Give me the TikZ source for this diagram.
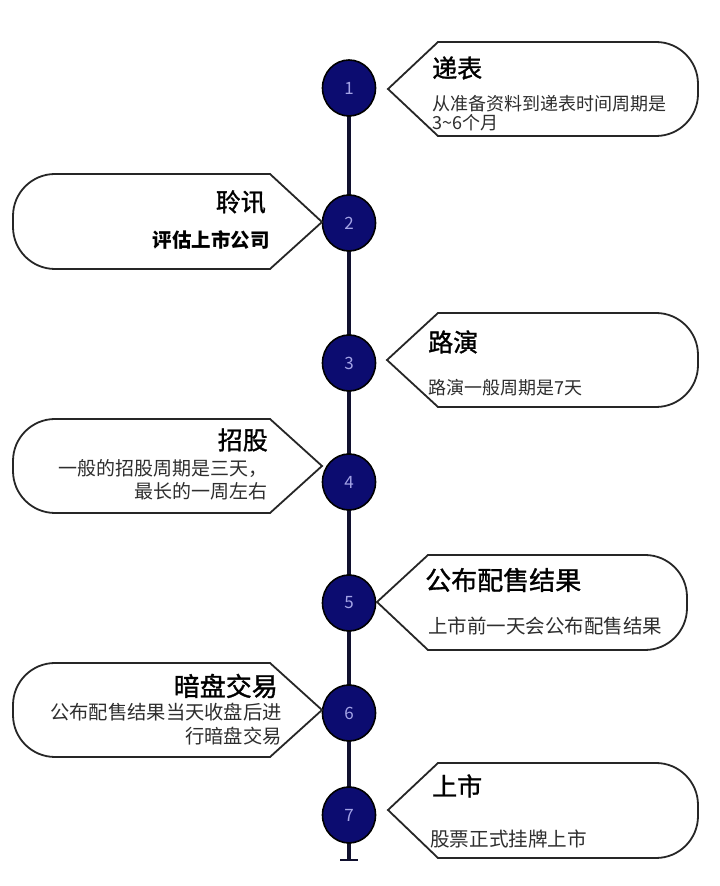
\documentclass[tikz,border=0pt]{standalone}
\usepackage{fontspec}
\setmainfont{Noto Sans CJK SC}
\newfontfamily\titlefont[FakeBold=1.2]{Noto Sans CJK SC}
\usepackage{tikz}
\usetikzlibrary{shapes.geometric}

\definecolor{stepnavy}{HTML}{0C0C70}
\definecolor{spinedark}{HTML}{10102E}
\definecolor{numlilac}{HTML}{A4A4E6}
\definecolor{bodygrey}{HTML}{2E2E2E}

\begin{document}
\begin{tikzpicture}[x=1pt, y=1pt,
  spine/.style={line width=4pt, draw=spinedark},
  stepdot/.style={ellipse, draw=black, line width=1.6pt, fill=stepnavy,
    minimum width=53pt, minimum height=56pt, inner sep=0pt,
    text=numlilac, font=\fontsize{17}{17}\selectfont},
  bubble/.style={draw=black!85, line width=1.8pt, fill=white, line join=miter},
  steptitle/.style={font=\titlefont\fontsize{25}{28}\selectfont, text=black, inner sep=0pt},
  stepbody/.style={font=\fontsize{19}{23}\selectfont, text=bodygrey, inner sep=0pt}]
  \useasboundingbox (0,0) rectangle (720,886);

  % Spine
  \coordinate (spine top) at (349,798);
  \coordinate (spine end) at (349,26);
  \draw[spine] (spine top) -- (spine end);
  \draw[spine, line width=2.5pt] ([xshift=-9pt]spine end) -- ([xshift=9pt]spine end);

  % Step dots
  \node[stepdot] (s1) at (349,798) {1};
  \node[stepdot] (s2) at (349,663) {2};
  \node[stepdot] (s3) at (349,523) {3};
  \node[stepdot] (s4) at (349,404) {4};
  \node[stepdot] (s5) at (349,283) {5};
  \node[stepdot] (s6) at (349,173) {6};
  \node[stepdot] (s7) at (349,71) {7};

  % Step 1
  \draw[bubble] (388,797) -- (438,844) -- (656,844) arc[start angle=90, end angle=0, radius=42pt]
    -- (698,792) arc[start angle=0, end angle=-90, radius=42pt] -- (438,750) -- cycle;
  \node[steptitle, anchor=west] (t1) at (432,818) {递表};
  \node[stepbody, anchor=west, align=left, font=\fontsize{18}{19}\selectfont] (b1) at (432,773)
    {从准备资料到递表时间周期是\\3\textasciitilde6个月};

  % Step 2
  \draw[bubble] (322,664) -- (270,712) -- (55,712) arc[start angle=90, end angle=180, radius=42pt]
    -- (13,659) arc[start angle=180, end angle=270, radius=42pt] -- (270,617) -- cycle;
  \node[steptitle, anchor=east] (t2) at (266,684) {聆讯};
  \node[stepbody, anchor=east, text=black, font=\fontsize{19.5}{23}\selectfont\bfseries] (b2) at (270,646) {评估上市公司};

  % Step 3
  \draw[bubble] (387,526) -- (438,573) -- (656,573) arc[start angle=90, end angle=0, radius=42pt]
    -- (698,521) arc[start angle=0, end angle=-90, radius=42pt] -- (438,479) -- cycle;
  \node[steptitle, anchor=west] (t3) at (428,544) {路演};
  \node[stepbody, anchor=west, font=\fontsize{18}{23}\selectfont] (b3) at (428,498) {路演一般周期是7天};

  % Step 4
  \draw[bubble] (322,420) -- (270,467) -- (55,467) arc[start angle=90, end angle=180, radius=42pt]
    -- (13,415) arc[start angle=180, end angle=270, radius=42pt] -- (270,373) -- cycle;
  \node[steptitle, anchor=east] (t4) at (268,446) {招股};
  \node[stepbody, anchor=east, align=right] (b4) at (268,406.5)
    {一般的招股周期是三天，\\最长的一周左右};

  % Step 5
  \draw[bubble] (377,284) -- (428,331) -- (645,331) arc[start angle=90, end angle=0, radius=42pt]
    -- (687,278) arc[start angle=0, end angle=-90, radius=42pt] -- (428,236) -- cycle;
  \node[steptitle, font=\titlefont\fontsize{26}{28}\selectfont, anchor=west] (t5) at (425,306) {公布配售结果};
  \node[stepbody, anchor=west, font=\fontsize{19.5}{23}\selectfont] (b5) at (428,260) {上市前一天会公布配售结果};

  % Step 6
  \draw[bubble] (322,176) -- (270,223) -- (55,223) arc[start angle=90, end angle=180, radius=42pt]
    -- (13,171) arc[start angle=180, end angle=270, radius=42pt] -- (270,129) -- cycle;
  \node[steptitle, font=\titlefont\fontsize{26}{28}\selectfont, anchor=east] (t6) at (278,200) {暗盘交易};
  \node[stepbody, anchor=east, align=right, font=\fontsize{19.3}{24}\selectfont] (b6) at (282,162)
    {公布配售结果当天收盘后进\\行暗盘交易};

  % Step 7
  \draw[bubble] (388,76) -- (438,123) -- (656,123) arc[start angle=90, end angle=0, radius=42pt]
    -- (698,70) arc[start angle=0, end angle=-90, radius=42pt] -- (438,28) -- cycle;
  \node[steptitle, anchor=west] (t7) at (432,100) {上市};
  \node[stepbody, anchor=west, font=\fontsize{19.6}{23}\selectfont] (b7) at (430,47) {股票正式挂牌上市};
\end{tikzpicture}
\end{document}
